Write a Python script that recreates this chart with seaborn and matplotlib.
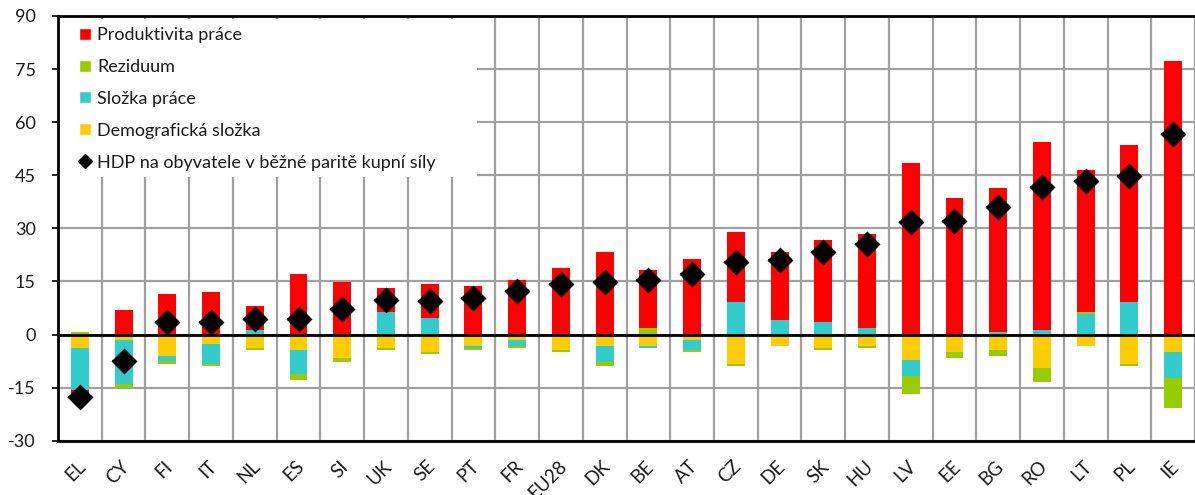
import numpy as np
import pandas as pd
import matplotlib
matplotlib.use("Agg")
import matplotlib.pyplot as plt
import matplotlib.transforms as mtransforms
import seaborn as sns
from matplotlib.patches import Patch, Rectangle
from matplotlib.lines import Line2D

# Země seřazené podle růstu HDP na obyvatele
countries = ["EL", "CY", "FI", "IT", "NL", "ES", "SI", "UK", "SE", "PT", "FR", "EU28", "DK",
             "BE", "AT", "CZ", "DE", "SK", "HU", "LV", "EE", "BG", "RO", "LT", "PL", "IE"]

# Příspěvky jednotlivých složek (p.b.)
produktivita = [-1.1, 7.0, 11.5, 12.1, 6.7, 17.2, 14.9, 6.8, 9.6, 13.8, 15.5, 18.9, 23.4,
                16.5, 21.2, 19.7, 19.3, 23.2, 26.7, 48.4, 38.7, 40.7, 53.1, 40.1, 44.3, 77.2]
reziduum = [0.8, -1.0, -0.7, -0.6, -0.5, -1.7, -1.1, -0.5, -0.4, -0.6, -0.5, -0.6, -1.2,
            1.8, -0.6, -0.6, 0.0, -0.5, -0.4, -5.1, -1.6, -1.6, -4.0, 0.5, -0.5, -8.5]
slozka_prace = [-11.9, -12.5, -1.6, -5.7, 1.4, -6.8, 0.0, 6.4, 4.7, -0.4, -1.7, 0.0, -4.5,
                -0.5, -2.8, 9.2, 4.1, 3.6, 1.8, -4.5, 0.0, 0.8, 1.4, 5.9, 9.2, -7.4]
demograficka = [-3.7, -1.5, -6.0, -2.6, -3.8, -4.3, -6.6, -3.8, -5.0, -3.3, -1.5, -4.3, -3.2,
                -3.2, -1.5, -8.3, -3.2, -3.8, -3.3, -7.2, -5.0, -4.4, -9.4, -3.2, -8.4, -4.9]
hdp = [-17.6, -7.6, 3.4, 3.4, 4.3, 4.3, 7.2, 9.7, 9.5, 10.2, 12.4, 14.2, 14.7,
       15.3, 17.0, 20.4, 21.0, 23.2, 25.5, 31.8, 32.2, 36.1, 41.8, 43.5, 44.7, 56.6]

yticks = [-30, -15, 0, 15, 30, 45, 60, 75, 90]
hdp_label = "HDP na obyvatele v běžné paritě kupní síly"

RED, GREEN, CYAN, YELLOW = "#FF0000", "#99CC00", "#33CCCC", "#FFCC00"

sns.set_theme(style="white")
plt.rcParams["font.family"] = ["Lato", "DejaVu Sans"]

W, H = 1195, 495
AX_L, AX_T, AX_B = 58, 16, 440.7
fig = plt.figure(figsize=(W / 100, H / 100), dpi=100)
ax = fig.add_axes([AX_L / W, 1 - AX_B / H, 1 - AX_L / W, (AX_B - AX_T) / H])
ax_w, ax_h = W - AX_L, AX_B - AX_T

# vrstvy od nuly směrem ven (kladné a záporné části se skládají zvlášť)
stack = [
    ("Demografická složka", demograficka, YELLOW),
    ("Složka práce", slozka_prace, CYAN),
    ("Reziduum", reziduum, GREEN),
    ("Produktivita práce", produktivita, RED),
]
n = len(countries)
pos = np.zeros(n)
neg = np.zeros(n)
cums = []
for name, vals, col in stack:
    v = np.asarray(vals, dtype=float)
    pos = pos + np.clip(v, 0, None)
    neg = neg + np.clip(v, None, 0)
    cums.append((pos.copy(), neg.copy(), col))

for p_cum, n_cum, col in reversed(cums):
    for cum in (p_cum, n_cum):
        df = pd.DataFrame({"zeme": countries, "hodnota": cum})
        sns.barplot(data=df, x="zeme", y="hodnota", order=countries, color=col,
                    saturation=1, width=0.41, linewidth=0, errorbar=None,
                    ax=ax, zorder=3)

# HDP na obyvatele – kosočtverce
df_hdp = pd.DataFrame({"zeme": countries, "hdp": hdp})
sns.pointplot(data=df_hdp, x="zeme", y="hdp", order=countries, color="black",
              marker="D", markersize=11, linestyle="none", errorbar=None,
              ax=ax, zorder=6)
sns.pointplot(data=df_hdp, x="zeme", y="hdp", order=countries, color="black",
              marker="_", markersize=17, markeredgewidth=1.6, linestyle="none",
              errorbar=None, ax=ax, zorder=6)

ax.axhline(0, color="black", lw=2, zorder=5)

ax.set_xlim(-0.5, n - 0.5)
ax.set_ylim(-30, 90)
ax.set_yticks(yticks)
ax.set_yticklabels([str(t) for t in yticks])
ax.set_xticks(np.arange(n) + 0.5, minor=True)
ax.set_axisbelow(True)
ax.grid(which="major", axis="y", color="#A0A0A0", lw=1.6)
ax.grid(which="minor", axis="x", color="#A0A0A0", lw=1.6)
ax.grid(which="major", axis="x", visible=False)
ax.set_xlabel("")
ax.set_ylabel("")

for side in ("left", "top", "bottom"):
    ax.spines[side].set_visible(True)
    ax.spines[side].set_color("black")
    ax.spines[side].set_linewidth(2)
ax.spines["right"].set_visible(False)

ax.tick_params(axis="y", which="major", left=True, length=4, width=1.2,
               color="black", pad=12, labelsize=13, labelcolor="#1a1a1a")
ax.tick_params(axis="x", which="both", bottom=False, top=False, length=0,
               pad=16.5, labelsize=13.5, labelcolor="#1a1a1a")
offset = mtransforms.ScaledTranslation(2 / 72, 0, fig.dpi_scale_trans)
for lab in ax.get_xticklabels():
    lab.set_rotation(45)
    lab.set_ha("right")
    lab.set_va("center")
    lab.set_rotation_mode("anchor")
    lab.set_transform(lab.get_transform() + offset)

# bílé pozadí legendy zakrývající mřížku
ax.add_patch(Rectangle((0, (AX_B - 177) / ax_h), (477 - AX_L) / ax_w,
                       (177 - 19) / ax_h, transform=ax.transAxes,
                       facecolor="white", edgecolor="none", zorder=2))

handles = [Patch(facecolor=RED), Patch(facecolor=GREEN), Patch(facecolor=CYAN),
           Patch(facecolor=YELLOW),
           Line2D([], [], marker="D", color="black", linestyle="none", markersize=7.5)]
labels = [s[0] for s in reversed(stack)] + [hdp_label]
leg = ax.legend(handles, labels, loc="upper left",
                bbox_to_anchor=((79 - AX_L) / ax_w, (AX_B - 27) / ax_h),
                frameon=False, fontsize=13, handlelength=0.65, handleheight=0.65,
                handletextpad=0.35, labelspacing=0.88, borderpad=0,
                borderaxespad=0.0)
leg.set_zorder(10)
for t in leg.get_texts():
    t.set_color("#1a1a1a")

fig.savefig("out.png", dpi=100)
